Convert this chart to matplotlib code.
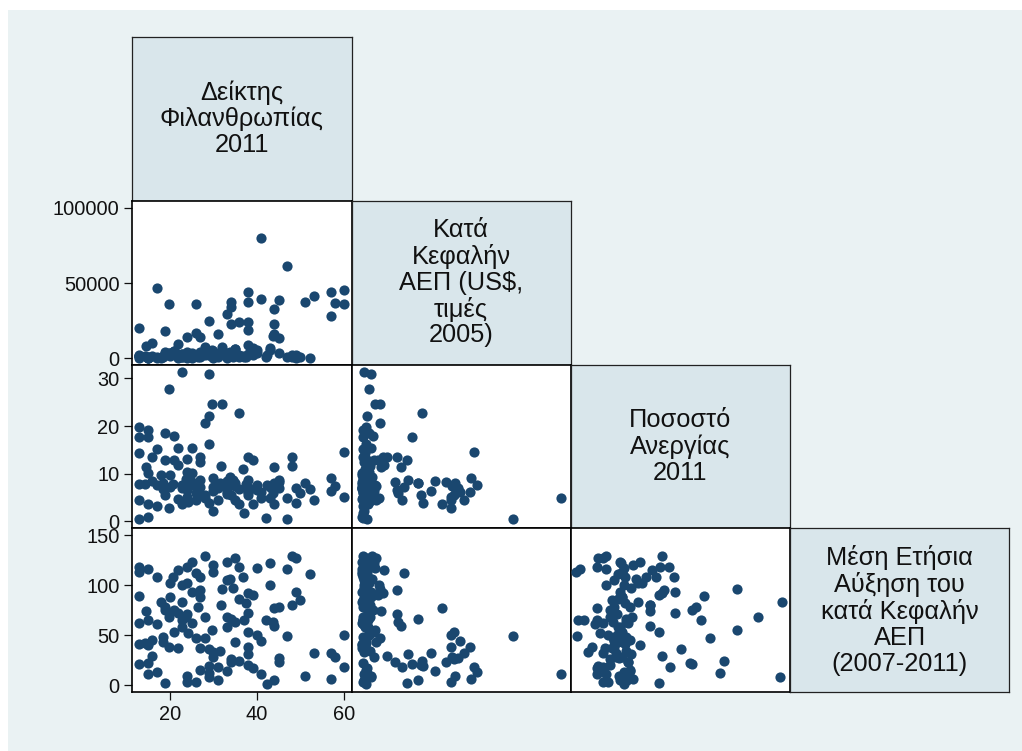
import numpy as np
import matplotlib.pyplot as plt
from matplotlib.patches import Rectangle

plt.rcParams['font.family'] = ['Liberation Sans', 'DejaVu Sans']

# one entry per country: giving index, GDP per capita, unemployment, growth
giving = [41.0, 47.0, 16.9, 60.1, 57.0, 37.9, 53.1, 41.0, 45.0, 51.0, 38.0, 33.9, 57.9, 60.1, 19.8,
          25.9, 33.9, 44.0, 33.0, 57.0, 28.9, 38.0, 35.9, 33.9, 44.0, 12.9, 37.9, 18.8, 25.9, 30.9,
          44.0, 43.7, 23.9, 26.8, 45.0,
          15.9, 21.8, 38.0, 14.5, 32.0, 43.0, 34.9,
          22.8, 28.9, 19.8, 29.7, 27.9, 28.9, 12.9, 14.9, 18.8, 20.8, 14.9, 28.9, 12.9, 16.9, 21.8,
          24.9, 26.8, 20.8, 23.9, 14.9, 31.8, 36.8, 39.1, 48.0, 48.0, 17.9, 19.9, 23.8, 24.9, 29.9,
          33.7, 34.5, 12.9, 14.2, 18.4, 20.7, 22.6, 26.8, 29.9, 31.4, 37.5, 39.9, 42.2, 52.2, 18.4,
          19.9, 26.5, 28.0, 29.9, 33.0, 38.0, 49.9, 12.9, 18.8, 21.8, 22.8, 14.9, 16.9, 24.1, 15.9,
          12.9, 23.7, 27.9, 33.0, 35.9, 35.9, 43.0, 47.0, 49.0, 49.0, 45.0, 33.0, 24.9, 22.8, 25.9,
          34.9, 37.0, 39.9, 26.8, 39.0, 42.0, 23.9, 23.9, 26.8, 30.9, 33.0, 35.0, 29.9, 14.9]
gdp = [80200, 61200, 46500, 45400, 44100, 43900, 41400, 39600, 39000, 37600, 37200, 37200, 36700, 36300, 36100,
       36100, 34300, 32700, 29800, 28100, 24900, 24100, 24500, 22700, 22700, 20300, 18900, 18500, 17100, 16500,
       16000, 14900, 14500, 14300, 13800,
       10500, 9400, 8900, 8200, 7600, 7100, 6000,
       1200, 4200, 3400, 5600, 7700, 2500, 1800, 900, 3100, 4800, 600, 2200, 1400, 700, 2800,
       3900, 1100, 5200, 2000, 500, 3600, 1500, 6800, 900, 2600, 400, 1700, 3300, 800, 2300,
       4500, 1200, 300, 1900, 650, 2900, 1000, 4000, 550, 3500, 1300, 5800, 2100, 450, 1600,
       3700, 850, 2400, 5100, 1000, 3000, 700, 1500, 4300, 350, 2700, 1100, 600, 3200, 1800,
       2600, 900, 4600, 300, 2000, 1200, 5400, 700, 2300, 400, 3800, 1600, 500, 2900, 1400,
       6200, 800, 3400, 1700, 2500, 950, 4100, 600, 1900, 1100, 3600, 2200, 1300, 450]
unemp = [4.9, 0.6, 7.6, 14.6, 9.0, 6.2, 4.5, 6.2, 6.9, 8.0, 7.3, 5.5, 7.4, 5.2, 2.9,
         4.5, 8.3, 3.6, 8.5, 6.4, 3.8, 5.5, 22.7, 8.0, 8.1, 17.8, 8.7, 12.9, 7.3, 4.5,
         11.5, 6.0, 6.6, 13.6, 8.3,
         13.4, 11.8, 13.4, 11.5, 24.6, 5.0, 4.5,
         31.4, 31.0, 27.7, 24.6, 20.6, 22.0, 19.7, 19.2, 18.5, 17.9, 17.6, 16.2, 14.4, 15.1, 15.3,
         15.3, 12.5, 12.9, 13.0, 10.1, 11.6, 10.9, 12.9, 13.4, 11.6, 9.7, 9.7, 10.4, 10.1, 9.0,
         9.4, 8.7, 7.8, 7.8, 8.0, 7.8, 7.6, 7.3, 7.3, 8.0, 7.8, 7.6, 7.6, 6.7, 6.7,
         7.3, 6.2, 5.5, 6.4, 6.2, 6.2, 5.9, 4.5, 5.5, 4.8, 3.6, 3.6, 3.3, 4.1, 8.5,
         0.5, 8.8, 5.0, 7.0, 3.6, 6.8, 7.2, 5.0, 3.8, 7.0, 8.6, 6.8, 8.2, 7.0, 6.0,
         7.5, 1.7, 6.6, 5.8, 3.6, 0.8, 6.9, 5.2, 8.6, 7.0, 5.8, 8.0, 2.2, 1.0]
growth = [11, 49, 13, 18, 6, 38, 32, 44, 27, 9, 53, 26, 28, 50, 38,
          3, 23, 77, 14, 32, 19, 20, 24, 66, 5, 21, 31, 2, 112, 18,
          59, 63, 71, 95, 23,
          29, 115, 92, 74, 96, 100, 127,
          83, 8, 68, 55, 47, 12, 89, 65, 78, 75, 22, 36, 118, 108, 72,
          93, 108, 53, 118, 40, 80, 108, 90, 129, 80, 83, 102, 102, 123, 120,
          106, 97, 41, 42, 48, 108, 100, 88, 113, 34, 82, 117, 1, 111, 43,
          88, 78, 68, 28, 105, 72, 85, 62, 75, 37, 65, 11, 61, 52, 45,
          113, 68, 129, 123, 118, 86, 122, 116, 127, 93, 78, 58, 62, 58, 47,
          43, 65, 50, 37, 17, 65, 9, 3, 15, 5, 68, 63, 33, 116]

labels = ['Δείκτης\nΦιλανθρωπίας\n2011',
          'Κατά\nΚεφαλήν\nΑΕΠ (US$,\nτιμές\n2005)',
          'Ποσοστό\nΑνεργίας\n2011',
          'Μέση Ετήσια\nΑύξηση του\nκατά Κεφαλήν\nΑΕΠ\n(2007-2011)']

data = [giving, gdp, unemp, growth]
xlims = [(11.25, 61.8), (-3800, 84200), (-0.34, 32.56), None]
ylims = [None, (-4000, 104700), (-1.47, 32.9), (-7.3, 156.7)]
yticks = [None, [0, 50000, 100000], [0, 10, 20, 30], [0, 50, 100, 150]]
xticks = [20, 40, 60]

BG = '#EAF2F3'
BOX = '#D9E6EB'
NAVY = '#1A476F'

W, H = 1022, 751
fig = plt.figure(figsize=(W / 100, H / 100), dpi=100, facecolor='white')
fig.patches.append(Rectangle((8 / W, 0), 1 - 8 / W, 1 - 10 / H, transform=fig.transFigure,
                             facecolor=BG, edgecolor='none', zorder=-10))

x0, cw = 132.3, 219.25
y0, rh = 36.7, 163.9

for row in range(4):
    for col in range(row + 1):
        ax = fig.add_axes([(x0 + col * cw) / W, 1 - (y0 + (row + 1) * rh) / H, cw / W, rh / H])
        if row == col:
            ax.set_facecolor(BOX)
            ax.set_xticks([])
            ax.set_yticks([])
            for s in ax.spines.values():
                s.set_linewidth(0.9)
                s.set_color('#222222')
            ax.text(0.5, 0.5, labels[row], ha='center', va='center', fontsize=18.3,
                    linespacing=1.1, transform=ax.transAxes, color='#111111')
            continue
        ax.set_facecolor('white')
        ax.scatter(data[col], data[row], s=54, color=NAVY, linewidths=0, zorder=3)
        ax.set_xlim(*xlims[col])
        ax.set_ylim(*ylims[row])
        for s in ax.spines.values():
            s.set_linewidth(1.2)
            s.set_color('black')
        ax.tick_params(length=5.8, width=0.9, labelsize=14.4, pad=3.5, colors='#111111')
        if col == 0:
            ax.set_yticks(yticks[row])
        else:
            ax.set_yticks([])
        if row == 3 and col == 0:
            ax.set_xticks(xticks)
        else:
            ax.set_xticks([])

fig.savefig('out.png', dpi=100, facecolor='white')
